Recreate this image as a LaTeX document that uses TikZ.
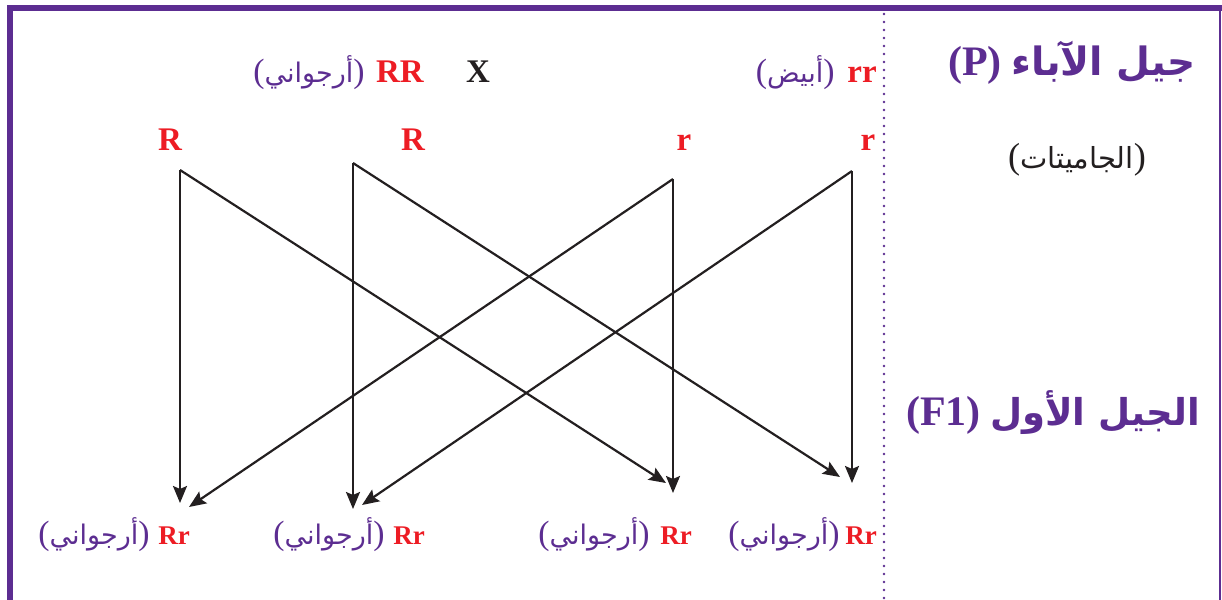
\documentclass[tikz,border=0pt]{standalone}
\usepackage{fontspec}
\setmainfont{Liberation Serif}
\newfontfamily\arabicfont[Script=Arabic]{DejaVu Sans}
\TeXXeTstate=1
\usetikzlibrary{arrows.meta}
\definecolor{vio}{HTML}{5C2D91}
\definecolor{gred}{HTML}{ED1C24}
\definecolor{ink}{HTML}{231F20}
\newcommand{\artext}[1]{{\fontsize{1.25em}{1em}\selectfont(}{\arabicfont\beginR #1\endR}{\fontsize{1.25em}{1em}\selectfont)}}
\newcommand{\arplain}[1]{{\arabicfont\beginR #1\endR}}
\begin{document}
\begin{tikzpicture}[x=0.5pt,y=-0.5pt,
  allele/.style={text=gred,font=\bfseries\fontsize{16.5}{18}\selectfont,inner sep=0pt},
  small/.style={text=gred,font=\bfseries\fontsize{13.5}{16}\selectfont,inner sep=0pt},
  phen/.style={text=vio,font=\fontsize{13.5}{16}\selectfont,inner sep=0pt},
  head/.style={text=vio,font=\bfseries\fontsize{19.5}{24}\selectfont,inner sep=0pt},
  gam/.style={text=ink,font=\fontsize{14.5}{17}\selectfont,inner sep=0pt},
  link/.style={line width=1.1pt,draw=ink,-{Stealth[length=8.5pt,width=7pt,inset=1.5pt]}},
  frame/.style={draw=vio},
  dots/.style={draw=vio,line width=1.3pt,line cap=round,dash pattern=on 0pt off 4pt}]
\useasboundingbox (0,0) rectangle (1222,600);
% frame
\draw[frame,line width=2.7pt] (10,600) -- (10,8) -- (1222,8);
\draw[frame,line width=1pt] (1220,8) -- (1220,600);
\draw[dots] (884,14) -- (884,600);
% headings
\node[head,anchor=base] (hP) at (1072,75) {{\fontsize{21}{24}\selectfont(P)}\hspace{0.25em}\arplain{جيل الآباء}};
\node[gam,anchor=base] (hG) at (1077,168) {\artext{الجاميتات}};
\node[head,anchor=base,font=\bfseries\fontsize{18.5}{24}\selectfont] (hF) at (1053,425) {{\fontsize{21}{24}\selectfont(F1)}\hspace{0.25em}\arplain{الجيل الأول}};
% parents
\node[phen,anchor=base east] (pa) at (365,82) {\artext{أرجواني}};
\node[allele,anchor=base] (pRR) at (400,82) {RR};
\node[text=ink,font=\bfseries\fontsize{16.5}{18}\selectfont,inner sep=0pt,anchor=base] (cross) at (478,82) {X};
\node[phen,anchor=base east] (pb) at (835,82) {\artext{أبيض}};
\node[allele,anchor=base] (prr) at (862,82) {rr};
% gametes
\node[allele,anchor=base] (g1) at (170,150) {R};
\node[allele,anchor=base] (g2) at (413,150) {R};
\node[allele,anchor=base] (g3) at (684,150) {r};
\node[allele,anchor=base] (g4) at (868,150) {r};
% offspring
\node[small,anchor=base] (o1) at (174,544) {Rr};
\node[phen,anchor=base east] (q1) at (150,544) {\artext{أرجواني}};
\node[small,anchor=base] (o2) at (409,544) {Rr};
\node[phen,anchor=base east] (q2) at (385,544) {\artext{أرجواني}};
\node[small,anchor=base] (o3) at (676,544) {Rr};
\node[phen,anchor=base east] (q3) at (650,544) {\artext{أرجواني}};
\node[small,anchor=base] (o4) at (861,544) {Rr};
\node[phen,anchor=base east] (q4) at (840,544) {\artext{أرجواني}};
% connector points
\coordinate (c1) at (180,170);
\coordinate (c2) at (353,163);
\coordinate (c3) at (673,179);
\coordinate (c4) at (852,171);
\coordinate (e1v) at (180,503);
\coordinate (e1d) at (666,483);
\coordinate (e2v) at (353,509);
\coordinate (e2d) at (840,477);
\coordinate (e3v) at (673,493);
\coordinate (e3d) at (189,507);
\coordinate (e4v) at (852,483);
\coordinate (e4d) at (362,505);
\draw[link] (c1) -- (e1v);
\draw[link] (c1) -- (e1d);
\draw[link] (c2) -- (e2v);
\draw[link] (c2) -- (e2d);
\draw[link] (c3) -- (e3v);
\draw[link] (c3) -- (e3d);
\draw[link] (c4) -- (e4v);
\draw[link] (c4) -- (e4d);
\end{tikzpicture}
\end{document}
